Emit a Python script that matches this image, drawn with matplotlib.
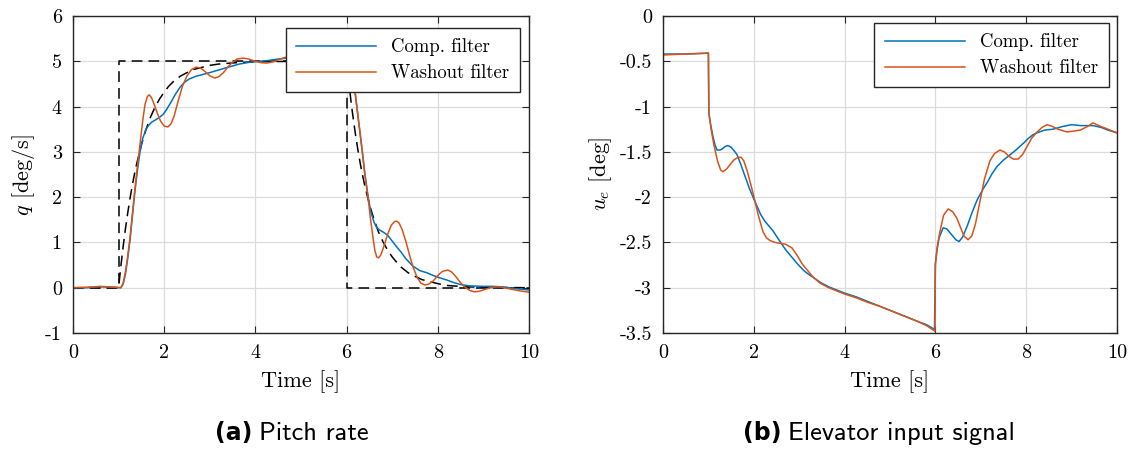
import matplotlib
matplotlib.use("Agg")
import matplotlib.pyplot as plt

plt.rcParams['font.family'] = ['cmr10', 'DejaVu Serif']
plt.rcParams['mathtext.fontset'] = 'cm'
plt.rcParams['axes.unicode_minus'] = False
plt.rcParams['axes.formatter.use_mathtext'] = True

blue = "#0072BD"
orange = "#D95319"

# ---- (a) pitch rate ----
t_step = [0, 1, 1, 6, 6, 10]
q_step = [0, 0, 5, 5, 0, 0]

t_model = [0, 1.0, 1.05, 1.1, 1.15, 1.2, 1.25, 1.3, 1.35, 1.4, 1.5, 1.6, 1.7, 1.8, 1.9, 2.0, 2.1, 2.2,
           2.35, 2.5, 2.65, 2.8, 3.0, 3.2, 3.6, 4.0, 5.0, 6.0,
           6.05, 6.1, 6.15, 6.2, 6.25, 6.3, 6.35, 6.4, 6.5, 6.6, 6.7, 6.8, 6.9, 7.0, 7.1, 7.2,
           7.35, 7.5, 7.65, 7.8, 8.0, 8.2, 8.6, 9.0, 10]
q_model = [0, 0, 0.48, 0.91, 1.30, 1.65, 1.97, 2.26, 2.52, 2.75, 3.16, 3.49, 3.77, 3.99, 4.17, 4.32,
           4.45, 4.55, 4.67, 4.75, 4.82, 4.86, 4.91, 4.94, 4.97, 4.99, 5.0, 5.0,
           4.52, 4.09, 3.70, 3.35, 3.03, 2.74, 2.48, 2.25, 1.84, 1.51, 1.23, 1.01, 0.83, 0.68, 0.56,
           0.45, 0.33, 0.25, 0.18, 0.14, 0.09, 0.05, 0.02, 0.01, 0]

t_comp = [0, 0.3, 0.6, 0.9, 1.05, 1.1, 1.15, 1.2, 1.25, 1.3, 1.36, 1.42, 1.47, 1.53, 1.6, 1.67, 1.73,
          1.8, 1.88, 1.97, 2.05, 2.15, 2.25, 2.35, 2.45, 2.55, 2.7, 2.85, 3.0, 3.2, 3.44, 3.65, 3.88,
          4.1, 4.3, 4.5, 4.69, 5.0, 5.4, 5.8, 6.0, 6.08, 6.13, 6.18, 6.26, 6.34, 6.4, 6.47, 6.53,
          6.6, 6.66, 6.73, 6.8, 6.9, 7.0, 7.1, 7.2, 7.3, 7.45, 7.6, 7.76, 7.9, 7.98, 8.1, 8.2, 8.33,
          8.5, 8.7, 9.0, 9.2, 9.4, 9.7, 10]
q_comp = [0, 0.0, 0.02, 0.01, 0.0, 0.08, 0.3, 0.65, 1.05, 1.55, 2.15, 2.65, 3.0, 3.3, 3.5, 3.6, 3.66,
          3.7, 3.75, 3.82, 3.93, 4.1, 4.28, 4.43, 4.54, 4.61, 4.67, 4.71, 4.75, 4.81, 4.88, 4.94, 4.98,
          5.0, 5.02, 5.05, 5.07, 5.08, 5.09, 5.1, 5.07, 4.88, 4.65, 4.37, 3.7, 3.05, 2.52, 2.02, 1.68,
          1.45, 1.33, 1.27, 1.23, 1.16, 1.03, 0.9, 0.78, 0.64, 0.48, 0.38, 0.33, 0.27, 0.24, 0.2, 0.17,
          0.12, 0.07, 0.04, 0.03, 0.03, 0.02, -0.02, -0.05]

t_wash = [0, 0.3, 0.6, 0.9, 1.05, 1.1, 1.15, 1.2, 1.25, 1.3, 1.36, 1.42, 1.48, 1.53, 1.58, 1.63, 1.67,
          1.72, 1.78, 1.85, 1.92, 2.0, 2.08, 2.15, 2.22, 2.3, 2.4, 2.5, 2.6, 2.7, 2.8, 2.9, 3.0, 3.11,
          3.2, 3.3, 3.4, 3.5, 3.6, 3.73, 3.85, 4.0, 4.12, 4.25, 4.4, 4.55, 4.7, 4.9, 5.1, 5.3, 5.5,
          5.7, 5.9, 6.0, 6.08, 6.13, 6.18, 6.26, 6.34, 6.4, 6.47, 6.52, 6.58, 6.62, 6.66, 6.7, 6.75,
          6.82, 6.9, 6.98, 7.05, 7.1, 7.15, 7.22, 7.3, 7.38, 7.46, 7.55, 7.63, 7.72, 7.8, 7.9, 8.0,
          8.1, 8.22, 8.3, 8.4, 8.5, 8.6, 8.7, 8.8, 8.9, 9.0, 9.15, 9.3, 9.4, 9.5, 9.65, 9.8, 10]
q_wash = [0, 0.01, 0.03, 0.01, 0.0, 0.1, 0.35, 0.7, 1.1, 1.6, 2.2, 2.75, 3.26, 3.7, 4.05, 4.22, 4.26,
          4.2, 4.05, 3.85, 3.68, 3.57, 3.55, 3.62, 3.8, 4.1, 4.45, 4.68, 4.82, 4.87, 4.85, 4.77, 4.68,
          4.63, 4.66, 4.75, 4.88, 4.98, 5.05, 5.07, 5.05, 5.0, 4.97, 4.96, 4.99, 5.05, 5.1, 5.12, 5.08,
          5.05, 5.08, 5.1, 5.08, 5.05, 4.85, 4.65, 4.37, 3.7, 3.04, 2.5, 2.0, 1.55, 1.1, 0.82, 0.68,
          0.66, 0.72, 0.92, 1.18, 1.38, 1.46, 1.47, 1.43, 1.28, 1.02, 0.72, 0.45, 0.22, 0.1, 0.06,
          0.08, 0.15, 0.27, 0.36, 0.39, 0.35, 0.24, 0.11, 0.01, -0.06, -0.09, -0.08, -0.05, 0.0, 0.02,
          0.01, -0.01, -0.04, -0.07, -0.1]

# ---- (b) elevator input ----
t_ue_comp = [0, 0.5, 1.0, 1.01, 1.05, 1.1, 1.15, 1.19, 1.25, 1.3, 1.37, 1.43, 1.5, 1.57, 1.63, 1.7,
             1.8, 1.9, 2.0, 2.07, 2.15, 2.25, 2.42, 2.55, 2.7, 2.85, 2.95, 3.1, 3.2, 3.35, 3.46, 3.65,
             3.8, 4.0, 4.25, 4.5, 4.75, 5.0, 5.2, 5.4, 5.6, 5.81, 5.98, 6.0, 6.03, 6.08, 6.17, 6.25,
             6.35, 6.45, 6.52, 6.6, 6.7, 6.8, 6.92, 7.05, 7.15, 7.25, 7.36, 7.5, 7.6, 7.75, 7.86, 7.95,
             8.05, 8.15, 8.24, 8.4, 8.59, 8.8, 9.0, 9.2, 9.47, 9.65, 9.8, 10]
ue_comp = [-0.42, -0.42, -0.41, -1.07, -1.2, -1.33, -1.43, -1.48, -1.48, -1.47, -1.44, -1.43, -1.45,
           -1.49, -1.53, -1.62, -1.76, -1.9, -2.02, -2.1, -2.19, -2.27, -2.37, -2.47, -2.58, -2.67,
           -2.73, -2.81, -2.85, -2.9, -2.94, -2.99, -3.02, -3.06, -3.1, -3.15, -3.2, -3.25, -3.29,
           -3.33, -3.37, -3.41, -3.46, -2.73, -2.6, -2.45, -2.34, -2.35, -2.41, -2.47, -2.49, -2.44,
           -2.32, -2.18, -2.03, -1.91, -1.83, -1.74, -1.66, -1.59, -1.55, -1.49, -1.44, -1.4, -1.35,
           -1.31, -1.29, -1.26, -1.25, -1.22, -1.2, -1.21, -1.21, -1.23, -1.26, -1.29]

t_ue_wash = [0, 0.5, 1.0, 1.01, 1.06, 1.12, 1.2, 1.27, 1.32, 1.4, 1.48, 1.56, 1.65, 1.72, 1.78, 1.86,
             1.98, 2.1, 2.2, 2.28, 2.36, 2.47, 2.58, 2.7, 2.84, 2.95, 3.07, 3.17, 3.3, 3.46, 3.65, 3.8,
             4.0, 4.25, 4.5, 4.75, 5.0, 5.2, 5.4, 5.6, 5.81, 5.99, 6.0, 6.04, 6.1, 6.18, 6.28, 6.38,
             6.47, 6.55, 6.63, 6.72, 6.8, 6.88, 6.98, 7.08, 7.2, 7.3, 7.42, 7.52, 7.62, 7.72, 7.82,
             7.92, 8.02, 8.12, 8.24, 8.35, 8.46, 8.58, 8.7, 8.9, 9.05, 9.19, 9.35, 9.47, 9.6, 9.8, 10]
ue_wash = [-0.43, -0.42, -0.41, -1.07, -1.25, -1.42, -1.6, -1.7, -1.72, -1.69, -1.64, -1.59, -1.56,
           -1.56, -1.6, -1.72, -1.95, -2.2, -2.38, -2.45, -2.48, -2.5, -2.51, -2.52, -2.56, -2.64,
           -2.74, -2.8, -2.88, -2.95, -3.0, -3.03, -3.07, -3.11, -3.16, -3.2, -3.25, -3.29, -3.33,
           -3.37, -3.42, -3.48, -2.75, -2.55, -2.38, -2.2, -2.13, -2.16, -2.23, -2.33, -2.43, -2.47,
           -2.43, -2.3, -2.05, -1.8, -1.6, -1.52, -1.48, -1.5, -1.55, -1.58, -1.58, -1.53, -1.44,
           -1.35, -1.28, -1.23, -1.2, -1.22, -1.25, -1.28, -1.27, -1.26, -1.22, -1.18, -1.21, -1.25,
           -1.29]

x_ticks = [0, 2, 4, 6, 8, 10]
q_ticks = [-1, 0, 1, 2, 3, 4, 5, 6]
ue_ticks = [0, -0.5, -1, -1.5, -2, -2.5, -3, -3.5]
ue_tick_labels = ["0", "-0.5", "-1", "-1.5", "-2", "-2.5", "-3", "-3.5"]

fig = plt.figure(figsize=(11.34, 4.5), dpi=100)
ax1 = fig.add_axes([73/1134, 117/450, 456/1134, 317/450])
ax2 = fig.add_axes([663/1134, 117/450, 454/1134, 317/450])

ax1.plot(t_step, q_step, color="k", lw=1.1, ls=(0, (7, 4)))
ax1.plot(t_model, q_model, color="k", lw=1.1, ls=(0, (7, 4)))
ax1.plot(t_comp, q_comp, color=blue, lw=1.1, label="Comp. filter")
ax1.plot(t_wash, q_wash, color=orange, lw=1.1, label="Washout filter")
ax1.set_ylim(-1, 6)
ax1.set_yticks(q_ticks)
ax1.set_yticklabels([str(v) for v in q_ticks])
ax1.set_ylabel(r"$q$ [deg/s]", fontsize=16, labelpad=6)

ax2.plot(t_ue_comp, ue_comp, color=blue, lw=1.1, label="Comp. filter")
ax2.plot(t_ue_wash, ue_wash, color=orange, lw=1.1, label="Washout filter")
ax2.set_ylim(-3.5, 0)
ax2.set_yticks(ue_ticks)
ax2.set_yticklabels(ue_tick_labels)
ax2.set_ylabel(r"$u_e$ [deg]", fontsize=16, labelpad=4)

for ax in (ax1, ax2):
    ax.set_xlim(0, 10)
    ax.set_xticks(x_ticks)
    ax.set_xticklabels([str(v) for v in x_ticks])
    ax.set_xlabel("Time [s]", fontsize=16, labelpad=6)
    ax.grid(True, color="#dcdcdc", lw=0.9)
    ax.set_axisbelow(True)
    ax.tick_params(direction="in", top=True, right=True, labelsize=14.5, length=5,
                   color="#262626", pad=8)
    for s in ax.spines.values():
        s.set_color("#262626")
        s.set_linewidth(1.0)

leg_kw = dict(loc="upper right", fontsize=13.5, handlelength=4.3, fancybox=False, framealpha=1,
              edgecolor="#262626", borderpad=0.55, labelspacing=0.42, borderaxespad=0,
              handletextpad=0.8)
leg1 = ax1.legend(bbox_to_anchor=(0.980, 0.962), **leg_kw)
leg2 = ax2.legend(bbox_to_anchor=(0.982, 0.978), **leg_kw)
for leg in (leg1, leg2):
    leg.get_frame().set_linewidth(1.0)

# captions
ta = fig.text(215/1134, 0.038, "(a)", ha="left", va="center", fontsize=17,
              family="DejaVu Sans", weight="bold")
ax1.annotate("Pitch rate", xy=(1, 0), xycoords=ta, xytext=(5, 0), textcoords="offset points",
             va="bottom", fontsize=19, family="cmss10", annotation_clip=False)
tb = fig.text(743/1134, 0.038, "(b)", ha="left", va="center", fontsize=17,
              family="DejaVu Sans", weight="bold")
ax2.annotate("Elevator input signal", xy=(1, 0), xycoords=tb, xytext=(5, 0),
             textcoords="offset points", va="bottom", fontsize=19, family="cmss10",
             annotation_clip=False)

fig.savefig("out.png", dpi=100)
